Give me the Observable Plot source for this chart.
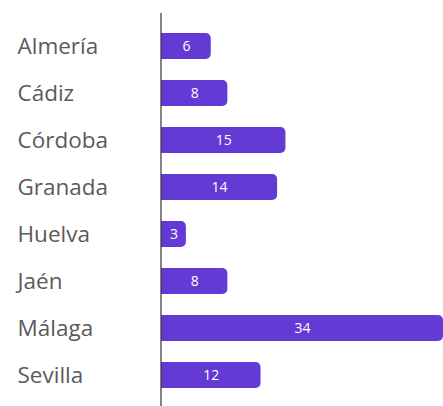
<!DOCTYPE html>
<html><head><meta charset="utf-8">
<script src="https://cdn.jsdelivr.net/npm/d3@7"></script>
<script src="https://cdn.jsdelivr.net/npm/@observablehq/plot@0.6"></script>
<style>body{margin:0;background:#fff;} svg{display:block;}</style>
</head><body><div id="chart"></div>
<script>
const provinces = ["Almería","Cádiz","Córdoba","Granada","Huelva","Jaén","Málaga","Sevilla"];
const counts = [6, 8, 15, 14, 3, 8, 34, 12];
const data = provinces.map((p, i) => ({province: p, count: counts[i]}));
const color = "#633AD4";
const chart = Plot.plot({
  width: 443, height: 406,
  marginLeft: 161, marginRight: 0, marginTop: 13, marginBottom: 0,
  style: {fontFamily: "'Open Sans', sans-serif", background: "#fff"},
  x: {domain: [0, 34], range: [161, 443], axis: null},
  y: {domain: provinces, range: [11.3, 410.5], padding: 0.45},
  marks: [
    Plot.barX(data, {x: "count", y: "province", fill: color, rx: 5}),
    Plot.barX(data, {x1: 0, x2: d => d.count / 2, y: "province", fill: color}),
    Plot.text(data, {x: d => d.count / 2, y: "province", text: d => String(d.count), fill: "white", fontSize: 14}),
    Plot.axisY({tickSize: 0, tickPadding: 0, textAnchor: "start", dx: -144, fontSize: 22.5, fill: "#5a5a5a", label: null}),
    Plot.ruleX([0], {stroke: "#333", strokeWidth: 1.2, dx: -0.5})
  ]
});
document.getElementById("chart").appendChild(chart);
</script></body></html>
